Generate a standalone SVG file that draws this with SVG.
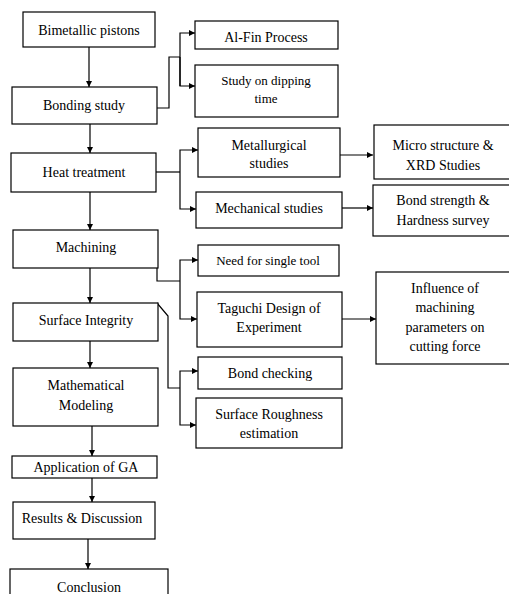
<svg xmlns="http://www.w3.org/2000/svg" width="509" height="594" viewBox="0 0 509 594">
<style>
.b{fill:#fff;stroke:#000;stroke-width:1.2}
.t text{font-family:'Liberation Serif',serif;font-size:14px;fill:#000;text-anchor:middle}
.t text.s{font-size:13px}
.c path{fill:none;stroke:#000;stroke-width:1.2}
</style>
<defs>
<marker id="a" viewBox="0 0 10 10" refX="10" refY="5" markerWidth="7" markerHeight="6" markerUnits="userSpaceOnUse" orient="auto"><path d="M0,0L10,5L0,10z" fill="#000"/></marker>
</defs>
<rect width="509" height="594" fill="#fff"/>
<g class="c">
<path d="M89,47V87" marker-end="url(#a)"/>
<path d="M90,124V153" marker-end="url(#a)"/>
<path d="M90,192V230" marker-end="url(#a)"/>
<path d="M90,268V303" marker-end="url(#a)"/>
<path d="M90,341V368" marker-end="url(#a)"/>
<path d="M92,426V456" marker-end="url(#a)"/>
<path d="M92,478V502" marker-end="url(#a)"/>
<path d="M88,539V569" marker-end="url(#a)"/>
<path d="M157,108H169V57H180"/>
<path d="M180,86V33H195" marker-end="url(#a)"/>
<path d="M180,57V86H195" marker-end="url(#a)"/>
<path d="M156,172H180"/>
<path d="M180,172V150H198" marker-end="url(#a)"/>
<path d="M180,172V209H196" marker-end="url(#a)"/>
<path d="M340,155H373" marker-end="url(#a)"/>
<path d="M342,208H373" marker-end="url(#a)"/>
<path d="M157,268V281H180"/>
<path d="M180,281V260H198" marker-end="url(#a)"/>
<path d="M180,281V319H197" marker-end="url(#a)"/>
<path d="M342,319H376" marker-end="url(#a)"/>
<path d="M157,303L168,316V388H180"/>
<path d="M180,388V371H198" marker-end="url(#a)"/>
<path d="M180,388V425H196" marker-end="url(#a)"/>
</g>
<g class="t">
<g id="n1"><rect class="b" x="23" y="12" width="132" height="35"/><text x="89" y="35">Bimetallic pistons</text></g>
<g id="n2"><rect class="b" x="12" y="87" width="145" height="37"/><text x="84" y="110">Bonding study</text></g>
<g id="n3"><rect class="b" x="11" y="153" width="145" height="39"/><text x="84" y="177">Heat treatment</text></g>
<g id="n4"><rect class="b" x="13" y="230" width="145" height="38"/><text x="86" y="252">Machining</text></g>
<g id="n5"><rect class="b" x="13" y="303" width="145" height="38"/><text x="86" y="325">Surface Integrity</text></g>
<g id="n6"><rect class="b" x="13" y="368" width="145" height="58"/><text x="86" y="390">Mathematical</text><text x="86" y="410">Modeling</text></g>
<g id="n7"><rect class="b" x="12" y="456" width="145" height="22"/><text x="86" y="472">Application of GA</text></g>
<g id="n8"><rect class="b" x="13" y="502" width="142" height="37"/><text x="82" y="523">Results &amp; Discussion</text></g>
<g id="n9"><rect class="b" x="10" y="569" width="158" height="40"/><text x="89" y="592">Conclusion</text></g>
<g id="n10"><rect class="b" x="195" y="21" width="143" height="28"/><text x="266" y="42">Al-Fin Process</text></g>
<g id="n11"><rect class="b" x="195" y="65" width="143" height="52"/><text class="s" x="266" y="85">Study on dipping</text><text class="s" x="266" y="103">time</text></g>
<g id="n12"><rect class="b" x="198" y="128" width="142" height="49"/><text x="269" y="150">Metallurgical</text><text x="269" y="168">studies</text></g>
<g id="n13"><rect class="b" x="196" y="192" width="146" height="36"/><text x="269" y="213">Mechanical studies</text></g>
<g id="n14"><rect class="b" x="374" y="125" width="140" height="54"/><text x="443" y="150">Micro structure &amp;</text><text x="443" y="170">XRD Studies</text></g>
<g id="n15"><rect class="b" x="373" y="185" width="141" height="51"/><text x="443" y="205">Bond strength &amp;</text><text x="443" y="225">Hardness survey</text></g>
<g id="n16"><rect class="b" x="198" y="245" width="141" height="31"/><text class="s" x="268" y="265">Need for single tool</text></g>
<g id="n17"><rect class="b" x="197" y="292" width="145" height="55"/><text x="269" y="313">Taguchi Design of</text><text x="269" y="332">Experiment</text></g>
<g id="n18"><rect class="b" x="376" y="272" width="138" height="92"/><text x="445" y="293">Influence of</text><text x="445" y="312">machining</text><text x="445" y="332">parameters on</text><text x="445" y="351">cutting force</text></g>
<g id="n19"><rect class="b" x="198" y="357" width="144" height="32"/><text x="270" y="378">Bond checking</text></g>
<g id="n20"><rect class="b" x="196" y="398" width="146" height="50"/><text x="269" y="419">Surface Roughness</text><text x="269" y="438">estimation</text></g>
</g>
</svg>
